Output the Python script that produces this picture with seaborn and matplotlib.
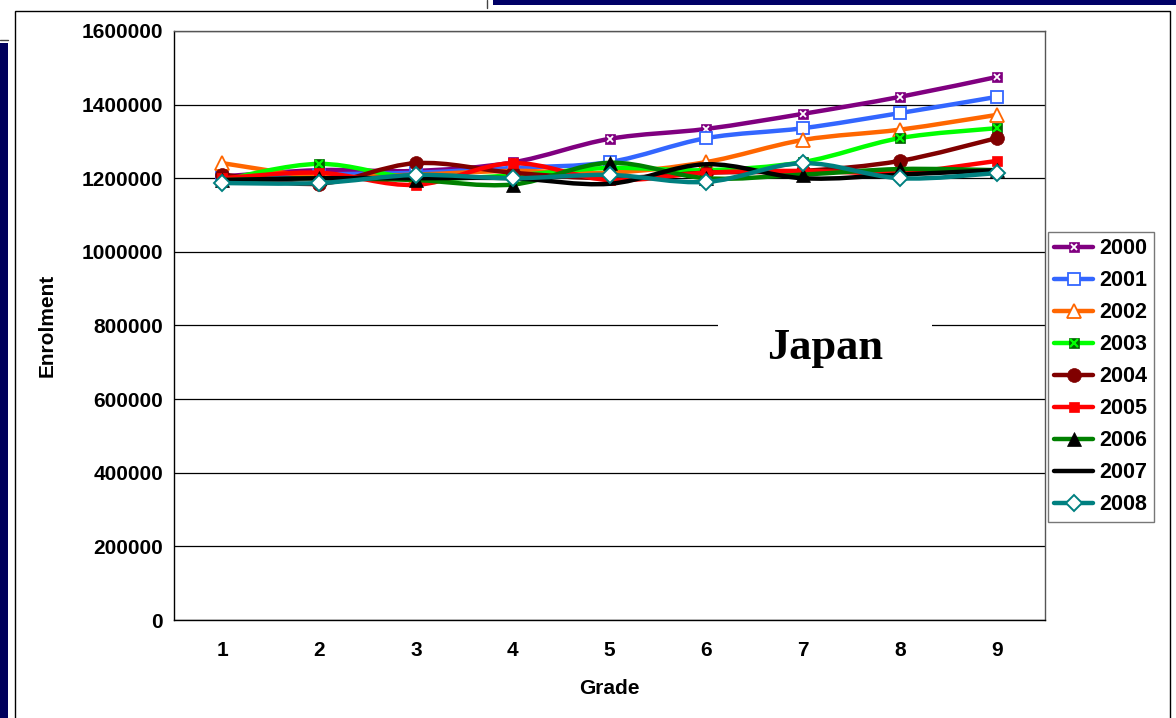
import numpy as np
import pandas as pd
import seaborn as sns
import matplotlib.pyplot as plt
from matplotlib.path import Path
from matplotlib.patches import PathPatch, Rectangle
from matplotlib.lines import Line2D
from matplotlib.legend_handler import HandlerTuple

# Enrolment by grade, one series per school year
grades = [1, 2, 3, 4, 5, 6, 7, 8, 9]
years = ["2000", "2001", "2002", "2003", "2004", "2005", "2006", "2007", "2008"]
y2000 = [1205000, 1222000, 1220000, 1243000, 1307000, 1334000, 1375000, 1421000, 1475000]
y2001 = [1200000, 1210000, 1215000, 1228000, 1244000, 1309000, 1336000, 1377000, 1421000]
y2002 = [1241000, 1205000, 1210000, 1220000, 1215000, 1244000, 1304000, 1332000, 1372000]
y2003 = [1195000, 1239000, 1200000, 1208000, 1228000, 1222000, 1244000, 1309000, 1336000]
y2004 = [1210000, 1185000, 1241000, 1215000, 1200000, 1215000, 1220000, 1247000, 1309000]
y2005 = [1200000, 1215000, 1182000, 1241000, 1195000, 1215000, 1220000, 1215000, 1247000]
y2006 = [1195000, 1200000, 1195000, 1183000, 1242000, 1200000, 1210000, 1225000, 1222000]
y2007 = [1195000, 1200000, 1200000, 1200000, 1185000, 1238000, 1200000, 1210000, 1222000]
y2008 = [1187000, 1187000, 1209000, 1200000, 1209000, 1190000, 1241000, 1200000, 1214000]
values = [y2000, y2001, y2002, y2003, y2004, y2005, y2006, y2007, y2008]

y_ticks = [0, 200000, 400000, 600000, 800000, 1000000, 1200000, 1400000, 1600000]

line_colors = ["#800080", "#3366FF", "#FF6600", "#00FF00", "#800000",
               "#FF0000", "#008000", "#000000", "#008080"]

# marker styles: list of (marker, size_pt, face, edge, edge_width) layers
marker_layers = [
    [("s", 6.5, "#800080", "#800080", 0.5), ("x", 5.0, "white", "white", 1.3)],
    [("s", 8.5, "white", "#3366FF", 1.3)],
    [("^", 10.5, "white", "#FF6600", 1.3)],
    [("s", 7.0, "#006400", "#006400", 0.5), ("x", 5.5, "#00FF00", "#00FF00", 1.6)],
    [("o", 10.0, "#800000", "#800000", 0.5)],
    [("s", 7.5, "#FF0000", "#FF0000", 0.5)],
    [("^", 10.0, "black", "black", 0.5)],
    [],
    [("D", 8.0, "white", "#008080", 1.4)],
]

df = pd.DataFrame({"Grade": np.repeat(grades, len(years)),
                   "Year": np.tile(years, len(grades)),
                   "Enrolment": np.array(values).T.ravel()})

sns.set_theme(style="white")
plt.rcParams["font.family"] = ["Liberation Sans", "DejaVu Sans"]
plt.rcParams["text.color"] = "black"
plt.rcParams["axes.labelcolor"] = "black"
plt.rcParams["xtick.color"] = "black"
plt.rcParams["ytick.color"] = "black"

FS = 15

W, H = 1176, 718
fig = plt.figure(figsize=(W / 100, H / 100), dpi=100)
ax = fig.add_axes([174 / W, 1 - 620 / H, (1045 - 174) / W, (620 - 31) / H])


def smooth_path(xs, ys):
    # cubic Bezier segments through each point (Catmull-Rom style tangents)
    xs = np.asarray(xs, float)
    ys = np.asarray(ys, float)
    n = len(xs)
    verts = [(xs[0], ys[0])]
    codes = [Path.MOVETO]
    for i in range(n - 1):
        i0 = max(i - 1, 0)
        i3 = min(i + 2, n - 1)
        c1 = (xs[i] + (xs[i + 1] - xs[i0]) / 6, ys[i] + (ys[i + 1] - ys[i0]) / 6)
        c2 = (xs[i + 1] - (xs[i3] - xs[i]) / 6, ys[i + 1] - (ys[i3] - ys[i]) / 6)
        verts += [c1, c2, (xs[i + 1], ys[i + 1])]
        codes += [Path.CURVE4] * 3
    return Path(verts, codes)


for k, yr in enumerate(years):
    sub = df[df["Year"] == yr]
    patch = PathPatch(smooth_path(sub["Grade"], sub["Enrolment"]), facecolor="none",
                      edgecolor=line_colors[k], lw=3.2, zorder=3 + k * 0.1,
                      capstyle="round", joinstyle="round")
    ax.add_patch(patch)
    for (m, ms, fc, ec, mew) in marker_layers[k]:
        sns.lineplot(data=sub, x="Grade", y="Enrolment", ax=ax, linestyle="",
                     marker=m, markersize=ms, markerfacecolor=fc, markeredgecolor=ec,
                     markeredgewidth=mew, zorder=3.05 + k * 0.1, legend=False)

ax.set_xlim(0.5, 9.5)
ax.set_ylim(0, 1600000)
ax.set_yticks(y_ticks)
ax.set_yticklabels([str(v) for v in y_ticks], fontsize=FS, fontweight="bold")
ax.set_xticks(np.arange(0.5, 10, 1))
ax.set_xticklabels([])
ax.set_xticks(grades, minor=True)
ax.set_xticklabels([str(g) for g in grades], minor=True, fontsize=FS, fontweight="bold")
ax.tick_params(axis="x", which="minor", length=0, pad=15)
ax.tick_params(axis="x", which="major", direction="out", length=5, width=1, color="black")
ax.tick_params(axis="y", direction="inout", length=8, width=1, color="black", pad=4)
ax.yaxis.grid(True, color="black", lw=0.9)
ax.xaxis.grid(False)
ax.set_axisbelow(True)
for side, sp in ax.spines.items():
    sp.set_visible(True)
    sp.set_linewidth(1.0)
    sp.set_color("black" if side in ("left", "bottom") else "#555555")
ax.set_xlabel("Grade", fontsize=FS, fontweight="bold")
ax.set_ylabel("Enrolment", fontsize=FS, fontweight="bold")
ax.yaxis.set_label_coords((57 - 174) / (1045 - 174), 0.5)
ax.xaxis.set_label_coords(0.5, (620 - 679) / (620 - 31))

# country label on a white plate over the gridline
ax.add_patch(Rectangle((0.6246, 0.425), 0.2455, 0.09, transform=ax.transAxes,
                       facecolor="white", edgecolor="none", zorder=1.5))
ax.text(0.747, 0.462, "Japan", transform=ax.transAxes, ha="center", va="center",
        fontsize=32, fontweight="bold", family=["Liberation Serif", "DejaVu Serif"],
        zorder=2)

# legend with line + marker samples
handles = []
for k in range(len(years)):
    parts = [Line2D([], [], color=line_colors[k], lw=3.2)]
    for (m, ms, fc, ec, mew) in marker_layers[k]:
        parts.append(Line2D([], [], linestyle="none", marker=m, markersize=ms,
                            markerfacecolor=fc, markeredgecolor=ec, markeredgewidth=mew))
    handles.append(tuple(parts))
leg = fig.legend(handles, years, loc="upper left",
                 bbox_to_anchor=(1048 / W, 1 - 232 / H), borderaxespad=0,
                 handler_map={tuple: HandlerTuple(ndivide=1)},
                 prop={"weight": "bold", "size": 15.5}, frameon=True, fancybox=False,
                 edgecolor="#555555", handlelength=1.8, handletextpad=0.3,
                 labelspacing=0.51, borderpad=0.3)
leg.get_frame().set_linewidth(1.0)

# chart frame and slide decorations
fig.patches.append(Rectangle((15 / W, -0.01), (1170 - 15) / W, 1.01 - 11 / H,
                             transform=fig.transFigure, facecolor="none",
                             edgecolor="black", lw=1.0, zorder=0))
fig.patches.append(Rectangle((0, 0), 8 / W, 1 - 43 / H, transform=fig.transFigure,
                             facecolor="#00005c", edgecolor="none"))
fig.patches.append(Rectangle((493 / W, 1 - 5 / H), (W - 493) / W, 5 / H,
                             transform=fig.transFigure, facecolor="#000066",
                             edgecolor="none"))
fig.add_artist(Line2D([0, 8 / W], [1 - 40 / H, 1 - 40 / H], transform=fig.transFigure,
                      color="#444444", lw=1))
fig.add_artist(Line2D([487 / W, 487 / W], [1, 1 - 8 / H], transform=fig.transFigure,
                      color="#444444", lw=1))

fig.savefig("out.png", dpi=100)
